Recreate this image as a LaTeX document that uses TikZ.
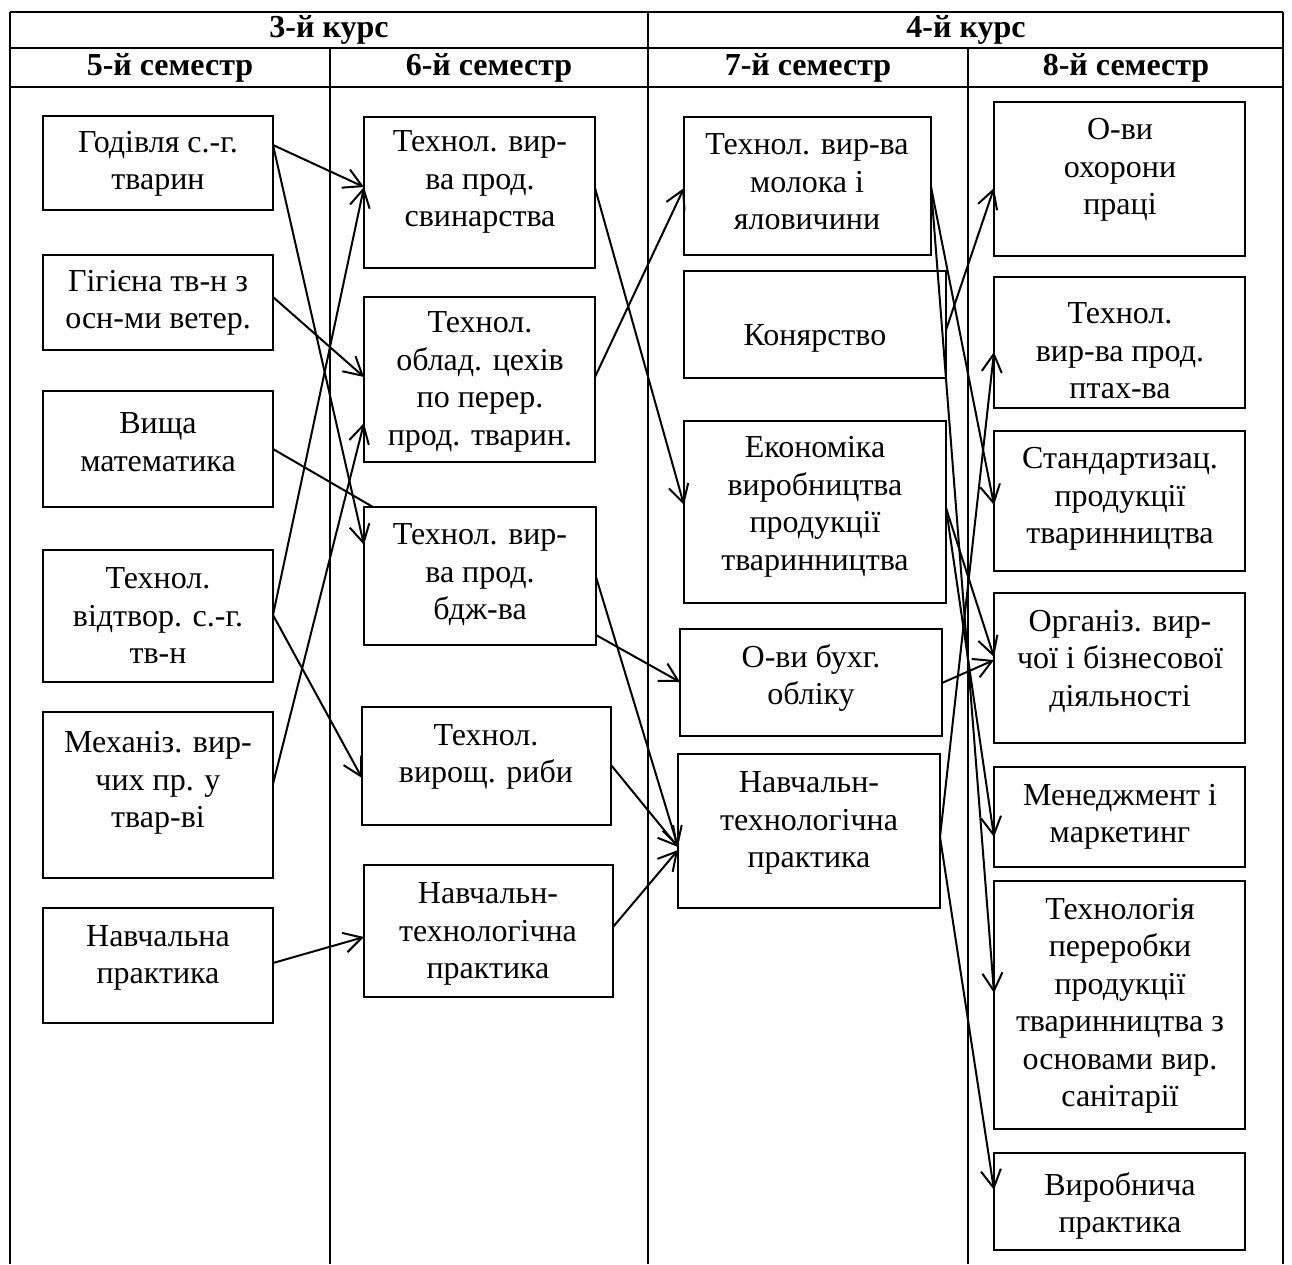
\documentclass[tikz,border=0pt]{standalone}
\usepackage{fontspec}
\setmainfont{Liberation Serif}
\usetikzlibrary{arrows.meta}
\newcommand\mybox[5]{\node[bx,minimum width={#4-#2},minimum height={#5-#3}] (#1) at ({(#2+#4)/2},{(#3+#5)/2}) {};}
\begin{document}
\begin{tikzpicture}[x=1pt,y=-1pt,
  bx/.style={draw,line width=1.5pt,inner sep=0pt,outer sep=0pt},
  tx/.style={align=center,inner sep=0pt,font=\fontsize{32}{37.5}\selectfont},
  hd/.style={inner sep=0pt,font=\fontsize{32}{36}\selectfont\bfseries},
  tbl/.style={line width=2.4pt},
  con/.style={line width=2pt},
  arr/.style={con,-{Straight Barb[length=18pt,width=20pt]}}]
\useasboundingbox (0,0) rectangle (1292,1264);
% table
\draw[tbl] (10,12) -- (1283,12);
\draw[tbl] (10,48) -- (1283,48);
\draw[tbl] (10,87) -- (1283,87);
\draw[tbl] (10,12) -- (10,1264);
\draw[tbl] (1283,12) -- (1283,1264);
\draw[tbl] (648,12) -- (648,1264);
\draw[tbl] (330,48) -- (330,1264);
\draw[tbl] (968,48) -- (968,1264);
\node[hd] (k3) at (329,30) {3-й курс};
\node[hd] (k4) at (966,30) {4-й курс};
\node[hd] (s5) at (170,68) {5-й семестр};
\node[hd] (s6) at (489,68) {6-й семестр};
\node[hd] (s7) at (808,68) {7-й семестр};
\node[hd] (s8) at (1126,68) {8-й семестр};
% column 1
\mybox{a1}{43}{116}{273}{210}
\mybox{a2}{43}{255}{273}{350}
\mybox{a3}{43}{391}{273}{507}
\mybox{a4}{43}{550}{273}{682}
\mybox{a5}{43}{712}{273}{878}
\mybox{a6}{43}{908}{273}{1023}
\node[tx] (a1t) at (158,164) {Годівля с.-г.\\тварин};
\node[tx] (a2t) at (158,303) {Гігієна тв-н з\\осн-ми ветер.};
\node[tx] (a3t) at (158,442) {Вища\\математика};
\node[tx] (a4t) at (158,616) {Технол.\\відтвор. с.-г.\\тв-н};
\node[tx] (a5t) at (158,783) {Механіз. вир-\\чих пр. у\\твар-ві};
\node[tx] (a6t) at (158,958) {Навчальна\\практика};
% column 2
\mybox{b1}{364}{117}{595}{268}
\mybox{b2}{364}{297}{595}{462}
\mybox{b3}{364}{507}{596}{645}
\mybox{b4}{362}{707}{611}{825}
\mybox{b5}{364}{865}{613}{997}
\node[tx] (b1t) at (480,182) {Технол. вир-\\ва прод.\\свинарства};
\node[tx] (b2t) at (480,382) {Технол.\\облад. цехів\\по перер.\\прод. тварин.};
\node[tx] (b3t) at (480,575) {Технол. вир-\\ва прод.\\бдж-ва};
\node[tx] (b4t) at (486,757) {Технол.\\вирощ. риби};
\node[tx] (b5t) at (488,934) {Навчальн-\\технологічна\\практика};
% column 3
\mybox{c1}{684}{117}{931}{255}
\mybox{c2}{684}{271}{946}{378}
\mybox{c3}{684}{421}{946}{603}
\mybox{c4}{680}{629}{942}{736}
\mybox{c5}{678}{754}{940}{908}
\node[tx] (c1t) at (807,182) {Технол. вир-ва\\молока і\\яловичини};
\node[tx] (c2t) at (815,338) {Конярство};
\node[tx] (c3t) at (815,507) {Економіка\\виробництва\\продукції\\тваринництва};
\node[tx] (c4t) at (811,678) {О-ви бухг.\\обліку};
\node[tx] (c5t) at (809,823) {Навчальн-\\технологічна\\практика};
% column 4
\mybox{d1}{994}{102}{1245}{256}
\mybox{d2}{994}{277}{1245}{408}
\mybox{d3}{994}{431}{1245}{571}
\mybox{d4}{994}{593}{1245}{743}
\mybox{d5}{994}{767}{1245}{867}
\mybox{d6}{994}{881}{1245}{1129}
\mybox{d7}{994}{1153}{1245}{1250}
\node[tx] (d1t) at (1120,170) {О-ви\\охорони\\праці};
\node[tx] (d2t) at (1120,351) {Технол.\\вир-ва прод.\\птах-ва};
\node[tx] (d3t) at (1120,499) {Стандартизац.\\продукції\\тваринництва};
\node[tx] (d4t) at (1120,661) {Організ. вир-\\чої і бізнесової\\діяльності};
\node[tx] (d5t) at (1120,817) {Менеджмент і\\маркетинг};
\node[tx] (d6t) at (1120,1006) {Технологія\\переробки\\продукції\\тваринництва з\\основами вир.\\санітарії};
\node[tx] (d7t) at (1120,1206) {Виробнича\\практика};
% connectors 5 -> 6
\draw[arr] (a1.east |- 0,145) -- (b1.west |- 0,187);
\draw[arr] (a1.east |- 0,145) -- (b3.west |- 0,545);
\draw[arr] (a2.east |- 0,297) -- (b2.west |- 0,377);
\draw[con] (a3.east |- 0,449) -- (b3.north -| 373,0);
\draw[arr] (a4.east |- 0,615) -- (b1.west |- 0,187);
\draw[arr] (a4.east |- 0,615) -- (b4.west |- 0,778);
\draw[arr] (a5.east |- 0,784) -- (b2.west |- 0,423);
\draw[arr] (a6.east |- 0,963) -- (b5.west |- 0,937);
% 6 -> 7
\draw[arr] (b1.east |- 0,188) -- (c3.west |- 0,505);
\draw[arr] (b2.east |- 0,377) -- (c1.west |- 0,188);
\draw[arr] (b3.east |- 0,577) -- (c5.west |- 0,847);
\draw[arr] (b3.east |- 0,635) -- (c4.west |- 0,682);
\draw[arr] (b4.east |- 0,765) -- (c5.west |- 0,847);
\draw[arr] (b5.east |- 0,927) -- (c5.west |- 0,850);
% 7 -> 8
\draw[arr] (c1.east |- 0,187) -- (d3.west |- 0,505);
\draw[arr] (c1.east |- 0,187) -- (d6.west |- 0,993);
\draw[arr] (c2.east |- 0,330) -- (d1.west |- 0,188);
\draw[arr] (c5.east |- 0,837) -- (d2.west |- 0,352);
\draw[arr] (c5.east |- 0,837) -- (d7.west |- 0,1190);
\draw[arr] (c3.east |- 0,508) -- (d4.west |- 0,657);
\draw[arr] (c3.east |- 0,508) -- (d5.west |- 0,837);
\draw[arr] (c4.east |- 0,683) -- (d4.west |- 0,660);
\end{tikzpicture}
\end{document}
